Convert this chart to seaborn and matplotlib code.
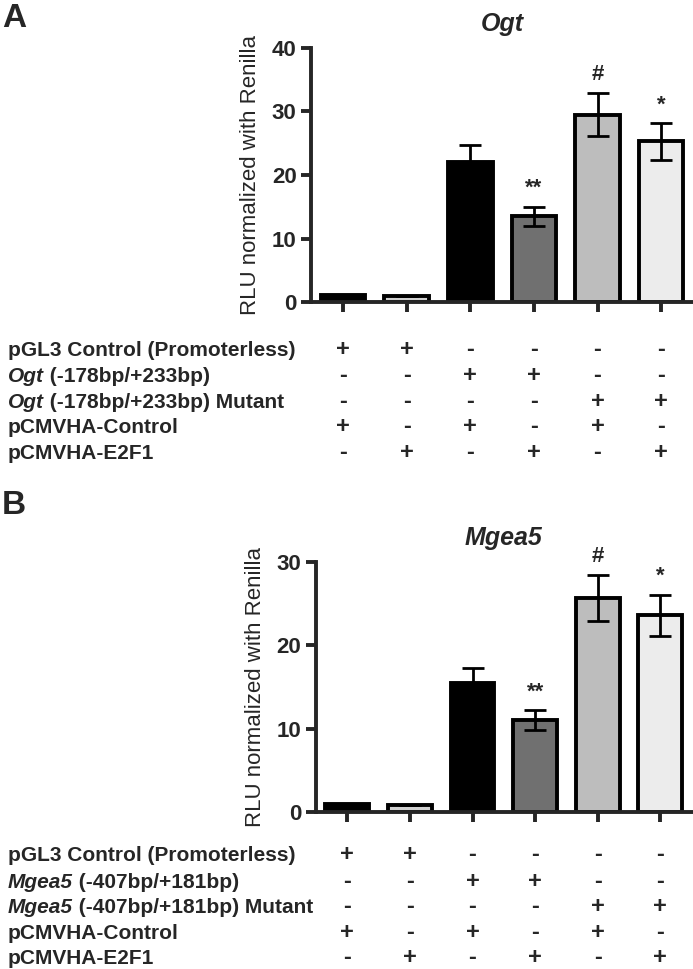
import numpy as np
import pandas as pd
import seaborn as sns
import matplotlib.pyplot as plt
import matplotlib.transforms as mtransforms

# data
conditions = ["c1", "c2", "c3", "c4", "c5", "c6"]
ogt_mean = [1.1, 0.9, 22.0, 13.5, 29.5, 25.3]
ogt_err = [0.0, 0.0, 2.7, 1.5, 3.4, 2.9]
mgea5_mean = [1.0, 0.9, 15.5, 11.0, 25.7, 23.6]
mgea5_err = [0.0, 0.0, 1.8, 1.2, 2.8, 2.5]
marks = ["", "", "", "**", "#", "*"]
bar_colors = ["#000000", "#cfcfcf", "#000000", "#707070", "#bdbdbd", "#ececec"]

row_pgl3 = ["+", "+", "-", "-", "-", "-"]
row_wt = ["-", "-", "+", "+", "-", "-"]
row_mut = ["-", "-", "-", "-", "+", "+"]
row_ctrl = ["+", "-", "+", "-", "+", "-"]
row_e2f1 = ["-", "+", "-", "+", "-", "+"]

sns.set_style("ticks")
plt.rcParams['font.family'] = ['Liberation Sans', 'DejaVu Sans']

fig = plt.figure(figsize=(6.93, 9.69), dpi=100)
ax_a = fig.add_axes([0.449, 0.6883, 0.551, 0.2622])
ax_b = fig.add_axes([0.456, 0.162, 0.542, 0.258])

TABLE_FS = 15


def draw_panel(ax, means, errs, ymax, step, title, gene, region, row_ys):
    df = pd.DataFrame({"cond": conditions, "val": means})
    sns.barplot(data=df, x="cond", y="val", hue="cond", palette=bar_colors,
                legend=False, width=0.7, edgecolor="black", linewidth=2.8,
                ax=ax)
    ax.errorbar(range(len(means)), means, yerr=errs, fmt="none",
                ecolor="black", elinewidth=2, capsize=8, capthick=2)
    for i, (m, e, s) in enumerate(zip(means, errs, marks)):
        if s:
            ax.text(i, m + e + ymax * 0.03, s, ha="center", va="bottom",
                    fontsize=16, fontweight="bold")
    ax.set_xlim(-0.5, 5.5)
    ax.set_ylim(0, ymax)
    ax.set_yticks(np.arange(0, ymax + 1, step))
    ax.set_xlabel("")
    ax.set_xticklabels([])
    ax.set_ylabel("RLU normalized with Renilla", fontsize=16, labelpad=8)
    ax.set_title(title, fontsize=18, fontweight="bold", style="italic", pad=12)
    for sp in ["top", "right"]:
        ax.spines[sp].set_visible(False)
    for sp in ["left", "bottom"]:
        ax.spines[sp].set_linewidth(2.8)
    ax.tick_params(axis="both", width=2.8, length=7, labelsize=16)
    for lab in ax.get_yticklabels():
        lab.set_fontweight("bold")

    # condition table under the axis
    tr = mtransforms.blended_transform_factory(ax.transData, fig.transFigure)
    rows = [row_pgl3, row_wt, row_mut, row_ctrl, row_e2f1]
    for y, row in zip(row_ys, rows):
        for i, sym in enumerate(row):
            ax.text(i, y, sym, transform=tr, ha="center", va="baseline",
                    fontsize=TABLE_FS + 2, fontweight="bold", clip_on=False)
    x0 = 0.011
    fig.text(x0, row_ys[0], "pGL3 Control (Promoterless)", fontsize=TABLE_FS,
             fontweight="bold", va="baseline")
    for y, tail in [(row_ys[1], " " + region), (row_ys[2], " " + region + " Mutant")]:
        t = fig.text(x0, y, gene, fontsize=TABLE_FS, fontweight="bold",
                     style="italic", va="baseline")
        fig.add_artist(plt.Annotation(tail, xy=(1, 0), xycoords=t,
                                      va="bottom", ha="left",
                                      fontsize=TABLE_FS, fontweight="bold"))
    fig.text(x0, row_ys[3], "pCMVHA-Control", fontsize=TABLE_FS,
             fontweight="bold", va="baseline")
    fig.text(x0, row_ys[4], "pCMVHA-E2F1", fontsize=TABLE_FS,
             fontweight="bold", va="baseline")


ys_a = [1 - y / 969 for y in [356, 382, 408, 433, 459]]
ys_b = [1 - y / 969 for y in [861, 888, 913, 939, 964]]
draw_panel(ax_a, ogt_mean, ogt_err, 40, 10, "Ogt", "Ogt", "(-178bp/+233bp)", ys_a)
draw_panel(ax_b, mgea5_mean, mgea5_err, 30, 10, "Mgea5", "Mgea5", "(-407bp/+181bp)", ys_b)

fig.text(0.003, 0.981, "A", fontsize=24, fontweight="bold", va="center")
fig.text(0.003, 0.478, "B", fontsize=24, fontweight="bold", va="center")

fig.savefig("out.png", dpi=100)
